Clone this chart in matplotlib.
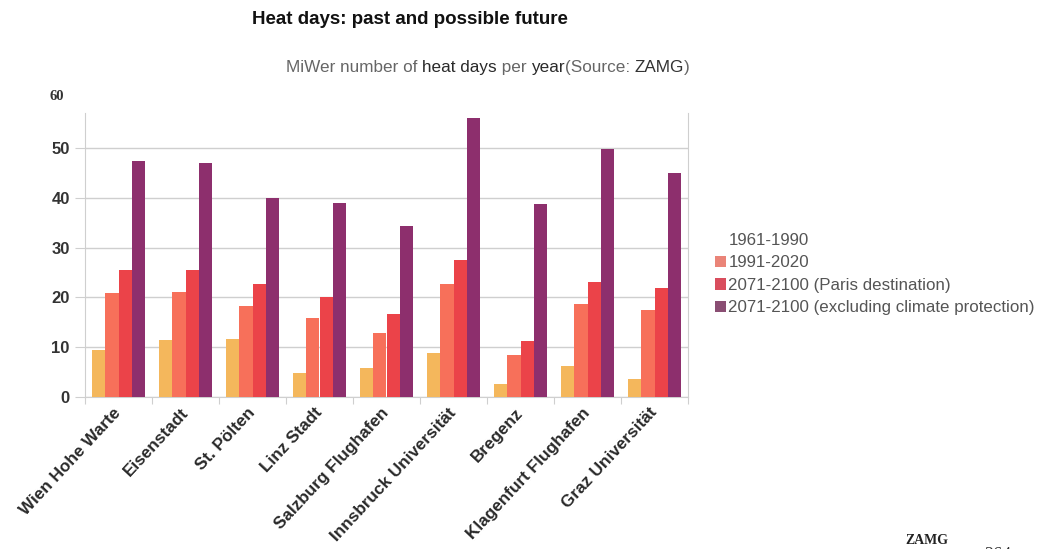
import matplotlib
matplotlib.use("Agg")
import matplotlib.pyplot as plt
import numpy as np
from matplotlib.patches import Patch

stations = ["Wien Hohe Warte", "Eisenstadt", "St. Pölten", "Linz Stadt",
            "Salzburg Flughafen", "Innsbruck Universität", "Bregenz",
            "Klagenfurt Flughafen", "Graz Universität"]
series_names = ["1961-1990", "1991-2020", "2071-2100 (Paris destination)",
                "2071-2100 (excluding climate protection)"]
v_1961_1990 = [9.5, 11.4, 11.7, 4.9, 5.9, 8.9, 2.6, 6.2, 3.6]
v_1991_2020 = [20.8, 21.0, 18.3, 15.9, 12.8, 22.6, 8.5, 18.7, 17.4]
v_paris = [25.5, 25.5, 22.6, 20.0, 16.6, 27.4, 11.3, 23.0, 21.9]
v_no_protection = [47.3, 47.0, 39.9, 38.9, 34.4, 56.0, 38.7, 49.8, 45.0]
y_ticks = [0, 10, 20, 30, 40, 50]

bar_colors = ["#f4b75c", "#f7705a", "#eb4349", "#8d2f6d"]
legend_colors = [None, "#ea8478", "#d94d5d", "#8a4e73"]

plt.rcParams['font.family'] = ['Liberation Sans', 'DejaVu Sans']

fig = plt.figure(figsize=(10.39, 5.49), dpi=100)
ax = fig.add_axes([85/1039, 1-397/549, (688-85)/1039, (397-113)/549])

x = np.arange(len(stations))
w = 0.195
all_vals = [v_1961_1990, v_1991_2020, v_paris, v_no_protection]
for i, vals in enumerate(all_vals):
    ax.bar(x + (i - 1.5) * w, vals, width=w, color=bar_colors[i], zorder=3)

ax.set_xlim(-0.5, len(stations) - 0.5)
ax.set_ylim(0, 57)
ax.set_yticks(y_ticks)
ax.set_yticklabels([str(t) for t in y_ticks], fontsize=12, fontweight='bold', color='#333333')
ax.yaxis.grid(True, color='#cfcfcf', linewidth=1.0, zorder=0)
ax.tick_params(axis='y', length=7, color='#cfcfcf', pad=4)

ax.set_xticks(np.arange(-0.5, len(stations), 1.0))
ax.set_xticklabels([])
ax.tick_params(axis='x', length=5, color='#cfcfcf', direction='out')
ax.spines['top'].set_visible(False)
for s in ['left', 'right', 'bottom']:
    ax.spines[s].set_color('#cfcfcf')

for xi, name in zip(x, stations):
    ax.text(xi - 0.08, -1.6, name, rotation=47, rotation_mode='anchor',
            ha='right', va='top', fontsize=12.3, fontweight='bold', color='#2a2a2a')

# legend
handles = []
for c, n in zip(legend_colors, series_names):
    if c is None:
        handles.append(Patch(facecolor='none', edgecolor='none', label=n))
    else:
        handles.append(Patch(facecolor=c, edgecolor='none', label=n))
leg = fig.legend(handles=handles, loc='center left', bbox_to_anchor=(700/1039, 1-274/549),
                 frameon=False, fontsize=12.2, handlelength=0.65, handleheight=0.65,
                 handletextpad=0.12, labelspacing=0.45)
for t in leg.get_texts():
    t.set_color('#555555')

# title
fig.text(410/1039, 1-20/549, "Heat days: past and possible future", ha='center', va='center',
         fontsize=13.5, fontweight='bold', color='#111111')

# subtitle with mixed colours
pieces = [("MiWer number of ", '#666666'), ("heat days", '#2a2a2a'), (" per ", '#666666'),
          ("year", '#2a2a2a'), ("(Source: ", '#666666'), ("ZAMG", '#333333'), (")", '#666666')]
fig.canvas.draw()
renderer = fig.canvas.get_renderer()
xpos = 286
ypos = 1 - 67/549
for txt, col in pieces:
    t = fig.text(xpos/1039, ypos, txt, ha='left', va='center', fontsize=12.3, color=col)
    bb = t.get_window_extent(renderer=renderer)
    xpos += bb.width

fig.text(50/1039, 1-97/549, "60", ha='left', va='center', fontsize=10.5, fontweight='bold',
         color='#333333', family='Liberation Serif')
fig.text(927/1039, 1-541/549, "ZAMG", ha='center', va='center', fontsize=10, fontweight='bold',
         color='#222222', family='Liberation Serif')
fig.text(984/1039, -6/549, "264", ha='left', va='center', fontsize=13,
         color='#333333', family='Liberation Serif')

fig.savefig("out.png", dpi=100)
